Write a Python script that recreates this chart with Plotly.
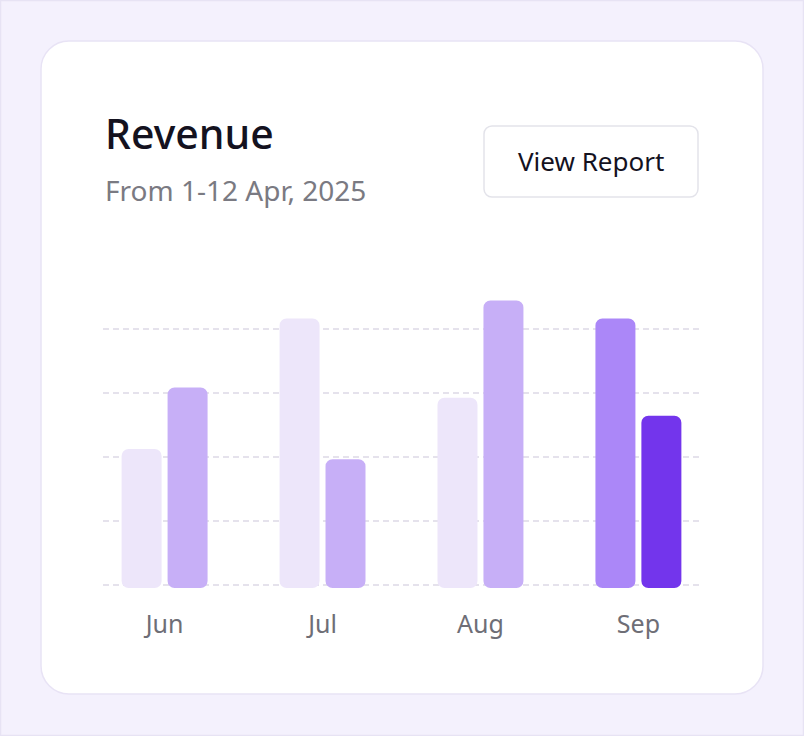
import plotly.graph_objects as go

# ---- data ----
months = ["Jun", "Jul", "Aug", "Sep"]
series_a = [53, 104, 73, 104]
series_b = [77, 49, 111, 66]
colors_a = ["#EDE6FA", "#EDE6FA", "#EDE6FA", "#AB87F8"]
colors_b = ["#C7AFF7", "#C7AFF7", "#C7AFF7", "#7335EC"]
grid_vals = [0, 25, 50, 75, 100]

title_text = "Revenue"
subtitle_text = "From 1-12 Apr, 2025"
button_text = "View Report"

# ---- layout geometry (pixels) ----
FW, FH = 804, 736
L, R, T, B = 103, 700, 280, 588
W, H = R - L, B - T
Y_MIN, Y_MAX = -1.29, 119.0
BAR_BASE = Y_MIN
FONT = "Noto Sans"


def xp(px):
    return (px - L) / W


def yp(py):
    return (B - py) / H


def rounded_rect(x0, y0, x1, y1, r):
    k = 0.5523 * r
    pts = [
        ("M", [(x0 + r, y0)]),
        ("L", [(x1 - r, y0)]),
        ("C", [(x1 - r + k, y0), (x1, y0 + r - k), (x1, y0 + r)]),
        ("L", [(x1, y1 - r)]),
        ("C", [(x1, y1 - r + k), (x1 - r + k, y1), (x1 - r, y1)]),
        ("L", [(x0 + r, y1)]),
        ("C", [(x0 + r - k, y1), (x0, y1 - r + k), (x0, y1 - r)]),
        ("L", [(x0, y0 + r)]),
        ("C", [(x0, y0 + r - k), (x0 + r - k, y0), (x0 + r, y0)]),
    ]
    s = ""
    for cmd, ps in pts:
        s += cmd + " " + " ".join(f"{xp(a):.5f},{yp(b):.5f}" for a, b in ps) + " "
    return s + "Z"


fig = go.Figure()
fig.add_trace(go.Bar(
    x=months, y=[v - BAR_BASE for v in series_a], base=BAR_BASE,
    marker=dict(color=colors_a, cornerradius=7, line=dict(width=0)),
    hoverinfo="skip", name="A"))
fig.add_trace(go.Bar(
    x=months, y=[v - BAR_BASE for v in series_b], base=BAR_BASE,
    marker=dict(color=colors_b, cornerradius=7, line=dict(width=0)),
    hoverinfo="skip", name="B"))

shapes = [
    # outer border
    dict(type="rect", xref="paper", yref="paper", x0=xp(0.5), x1=xp(FW - 0.5),
         y0=yp(0.5), y1=yp(FH - 0.5), line=dict(color="#E7E3F4", width=1.5),
         fillcolor="rgba(0,0,0,0)", layer="below"),
    # card
    dict(type="path", xref="paper", yref="paper", path=rounded_rect(41, 41, 763, 694, 28),
         fillcolor="#FFFFFF", line=dict(color="#E8E3F5", width=1.5), layer="below"),
    # button
    dict(type="path", xref="paper", yref="paper", path=rounded_rect(484, 126, 698, 197, 8),
         fillcolor="#FFFFFF", line=dict(color="#E3E3EA", width=1.5), layer="below"),
]

annotations = [
    dict(text=title_text, xref="paper", yref="paper", x=xp(103), y=yp(133),
         xanchor="left", yanchor="middle", showarrow=False,
         font=dict(family=FONT, size=41, color="#14121F", weight=500)),
    dict(text=subtitle_text, xref="paper", yref="paper", x=xp(103), y=yp(190),
         xanchor="left", yanchor="middle", showarrow=False,
         font=dict(family=FONT, size=28, color="#7A7A82")),
    dict(text=button_text, xref="paper", yref="paper", x=xp(591), y=yp(161),
         xanchor="center", yanchor="middle", showarrow=False,
         font=dict(family=FONT, size=26, color="#14121F")),
]

fig.update_layout(
    width=FW, height=FH,
    margin=dict(l=L, r=FW - R, t=T, b=FH - B, pad=0),
    paper_bgcolor="#F4F1FD", plot_bgcolor="rgba(0,0,0,0)",
    barmode="group", bargap=0.418, bargroupgap=0.13,
    showlegend=False,
    shapes=shapes, annotations=annotations,
    xaxis=dict(range=[-0.39, 3.39], showgrid=False, zeroline=False, showline=False,
               ticks="outside", ticklen=14, tickcolor="rgba(0,0,0,0)",
               tickfont=dict(family=FONT, size=25, color="#6E6E76"), fixedrange=True),
    yaxis=dict(range=[Y_MIN, Y_MAX], tickvals=grid_vals, showticklabels=False,
               showgrid=True, gridcolor="#E5E2EC", gridwidth=1.5, griddash="6px,4px",
               zeroline=False, showline=False, fixedrange=True),
)

fig.write_html("out.html", config={"displayModeBar": False},
               post_script="document.body.style.margin='0';document.body.style.overflow='hidden';")
